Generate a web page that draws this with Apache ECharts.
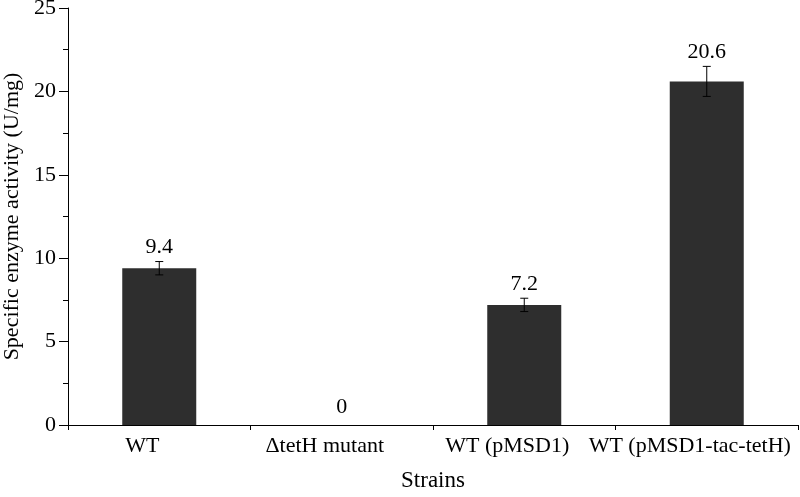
<!DOCTYPE html>
<html>
<head>
<meta charset="utf-8">
<script src="https://cdn.jsdelivr.net/npm/echarts@6/dist/echarts.min.js"></script>
<style>html,body{margin:0;padding:0;background:#fff;}#c{width:800px;height:497px;}</style>
</head>
<body>
<div id="c"></div>
<script>
var categories = ['WT', '\u0394tetH mutant', 'WT (pMSD1)', 'WT (pMSD1-tac-tetH)'];
var values = [9.4, 0, 7.2, 20.6];
var errors = [0.4, 0, 0.4, 0.9];
var yTicks = [0, 5, 10, 15, 20, 25];

var FONT = '"Liberation Serif", "Times New Roman", serif';
var chart = echarts.init(document.getElementById('c'));
var errData = values.map(function (v, i) { return [i, v, errors[i]]; });

chart.setOption({
  animation: false,
  backgroundColor: '#fff',
  grid: { left: 68, right: 2, top: 8, bottom: 72, containLabel: false, outerBoundsMode: 'none' },
  xAxis: [{
    type: 'category',
    data: categories,
    name: 'Strains',
    nameLocation: 'middle',
    nameGap: 44,
    nameTextStyle: { fontFamily: FONT, fontSize: 23, color: '#000' },
    axisLine: { lineStyle: { color: '#000', width: 1 } },
    axisTick: { alignWithLabel: true, length: 8, lineStyle: { color: '#000' } },
    axisLabel: { interval: 0, hideOverlap: false, fontFamily: FONT, fontSize: 22, color: '#000', margin: 10, padding: [0, 34, 0, 0] }
  }, {
    type: 'category',
    data: categories,
    position: 'bottom',
    axisLine: { show: false },
    axisTick: { show: true, length: 5, lineStyle: { color: '#000' } },
    axisLabel: { show: false }
  }],
  yAxis: {
    type: 'value',
    min: yTicks[0],
    max: yTicks[yTicks.length - 1],
    interval: 5,
    name: 'Specific enzyme activity (U/mg)',
    nameLocation: 'middle',
    nameGap: 45,
    nameTextStyle: { fontFamily: FONT, fontSize: 22, color: '#000' },
    axisLine: { show: true, lineStyle: { color: '#000', width: 1 } },
    axisTick: { show: true, length: 9, lineStyle: { color: '#000' } },
    minorTick: { show: true, splitNumber: 2, length: 5, lineStyle: { color: '#000' } },
    splitLine: { show: false },
    axisLabel: { fontFamily: FONT, fontSize: 22, color: '#000', margin: 12 }
  },
  series: [{
    type: 'bar',
    data: values,
    barWidth: 74,
    itemStyle: { color: '#2e2e2e', borderColor: '#111', borderWidth: 0 }
  }, {
    type: 'custom',
    data: errData,
    z: 10,
    renderItem: function (params, api) {
      var i = api.value(0), v = api.value(1), e = api.value(2);
      var top = api.coord([i, v + e]);
      var bot = api.coord([i, v - e]);
      var x = top[0];
      var hw = 4;
      var children = [];
      if (e > 0) {
        var st = { stroke: '#000', lineWidth: 1 };
        children.push({ type: 'line', shape: { x1: x, y1: top[1], x2: x, y2: bot[1] }, style: st });
        children.push({ type: 'line', shape: { x1: x - hw, y1: top[1], x2: x + hw, y2: top[1] }, style: st });
        children.push({ type: 'line', shape: { x1: x - hw, y1: bot[1], x2: x + hw, y2: bot[1] }, style: st });
      }
      children.push({
        type: 'text',
        style: {
          x: x, y: top[1] - (e > 0 ? 3 : 7),
          text: String(v),
          textAlign: 'center', textVerticalAlign: 'bottom',
          fontFamily: FONT, fontSize: 22, fill: '#000'
        }
      });
      return { type: 'group', children: children };
    }
  }]
});
</script>
</body>
</html>
